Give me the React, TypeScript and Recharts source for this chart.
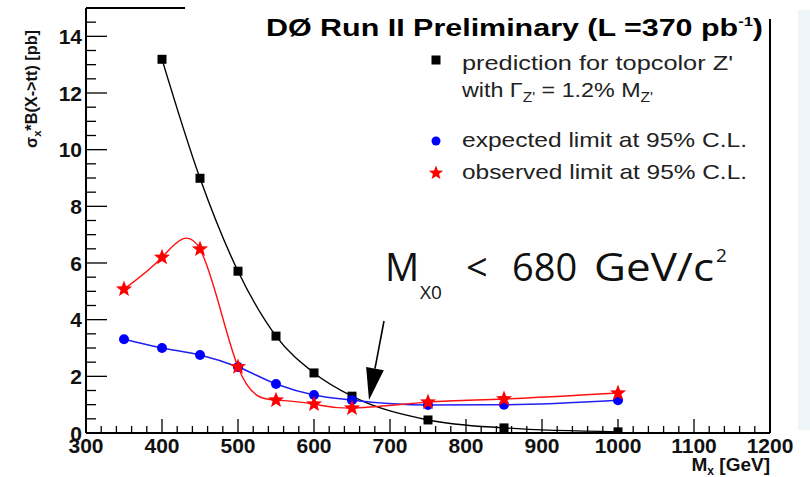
import React from 'react';
import { LineChart, Line, XAxis, YAxis, ReferenceLine } from 'recharts';

// ---- data ----
const masses = [350, 400, 450, 500, 550, 600, 650, 750, 850, 1000];
const prediction: (number | null)[] = [null, 13.19, 8.99, 5.71, 3.42, 2.12, 1.3, 0.46, 0.18, 0.04];
const expectedLimit = [3.31, 3.0, 2.75, 2.33, 1.73, 1.34, 1.16, 0.99, 1.0, 1.16];
const observedLimit = [5.08, 6.2, 6.49, 2.33, 1.16, 1.02, 0.88, 1.09, 1.2, 1.41];

const xMajorTicks = [300, 400, 500, 600, 700, 800, 900, 1000, 1100, 1200];
const yMajorTicks = [0, 2, 4, 6, 8, 10, 12, 14];
const xDomain: [number, number] = [300, 1200];
const yDomain: [number, number] = [0, 15];
const xMinorStep = 20;
const yMinorStep = 0.5;

const range = (a: number, b: number, s: number) => {
  const out: number[] = [];
  for (let v = a; v <= b + 1e-9; v += s) out.push(Math.round(v * 100) / 100);
  return out;
};
const xTicks = range(xDomain[0], xDomain[1], xMinorStep);
const yTicks = range(yDomain[0], yDomain[1], yMinorStep);

const data = masses.map((m, i) => ({
  x: m,
  pred: prediction[i],
  exp: expectedLimit[i],
  obs: observedLimit[i],
}));

const FONT = '"Liberation Sans", Arial, Helvetica, sans-serif';
const ANNOT_FONT = '"Open Sans", "Noto Sans", sans-serif';

function XTick(props: any) {
  const { x, y, payload } = props;
  const v = payload.value;
  const major = xMajorTicks.includes(v);
  return (
    <g>
      <line x1={x} x2={x} y1={y} y2={y - (major ? 14 : 7)} stroke="#000" strokeWidth={1.3} />
      {major && (
        <text x={x} y={y + 20} textAnchor="middle" fontFamily={FONT} fontWeight="bold" fontSize={21} fill="#111">
          {v}
        </text>
      )}
    </g>
  );
}

function YTick(props: any) {
  const { x, y, payload } = props;
  const v = payload.value;
  const major = yMajorTicks.includes(v);
  return (
    <g>
      <line x1={x} x2={x + (major ? 21 : 10)} y1={y} y2={y} stroke="#000" strokeWidth={1.3} />
      {major && (
        <text x={x - 4} y={y + 7.5} textAnchor="end" fontFamily={FONT} fontWeight="bold" fontSize={21} fill="#111">
          {v}
        </text>
      )}
    </g>
  );
}

const starPoints = (cx: number, cy: number, R: number, r: number) => {
  const pts: string[] = [];
  for (let i = 0; i < 10; i++) {
    const a = (-90 + i * 36) * (Math.PI / 180);
    const rad = i % 2 === 0 ? R : r;
    pts.push(`${cx + rad * Math.cos(a)},${cy + rad * Math.sin(a)}`);
  }
  return pts.join(' ');
};

const SquareDot = (p: any) => {
  const { cx, cy, index, value } = p;
  if (cx == null || cy == null || value == null) return <g key={`sq${index}`} />;
  return <rect key={`sq${index}`} x={cx - 4.5} y={cy - 4.5} width={9} height={9} fill="#000" />;
};
const CircleDot = (p: any) => {
  const { cx, cy, index } = p;
  if (cx == null || cy == null) return <g key={`ci${index}`} />;
  return <circle key={`ci${index}`} cx={cx} cy={cy} r={5} fill="#0000ff" />;
};
const StarDot = (p: any) => {
  const { cx, cy, index } = p;
  if (cx == null || cy == null) return <g key={`st${index}`} />;
  return <polygon key={`st${index}`} points={starPoints(cx, cy, 8.5, 3.6)} fill="#ff0000" />;
};

// arrow geometry (annotation)
const arrowTail = { x: 384, y: 321 };
const arrowTip = { x: 369, y: 400 };
const arrowHead = (() => {
  const dx = arrowTip.x - arrowTail.x;
  const dy = arrowTip.y - arrowTail.y;
  const L = Math.hypot(dx, dy);
  const ux = dx / L, uy = dy / L;
  const bx = arrowTip.x - 32 * ux, by = arrowTip.y - 32 * uy;
  const nx = -uy, ny = ux;
  return {
    base: { x: bx, y: by },
    pts: `${arrowTip.x},${arrowTip.y} ${bx + 9 * nx},${by + 9 * ny} ${bx - 9 * nx},${by - 9 * ny}`,
  };
})();

export default function App() {
  return (
    <div style={{ position: 'absolute', left: 0, top: 0, width: 810, height: 477, background: '#fff', overflow: 'hidden' }}>
      <LineChart width={810} height={477} data={data} margin={{ top: 8, right: 40, bottom: 0, left: 0 }}>
        <XAxis
          type="number"
          dataKey="x"
          domain={xDomain}
          ticks={xTicks}
          interval={0}
          tickLine={false}
          tickSize={0}
          tickMargin={0}
          height={44}
          axisLine={{ stroke: '#000', strokeWidth: 2 }}
          tick={<XTick />}
          allowDataOverflow
        />
        <YAxis
          type="number"
          domain={yDomain}
          ticks={yTicks}
          interval={0}
          tickLine={false}
          tickSize={0}
          tickMargin={0}
          width={86}
          axisLine={{ stroke: '#000', strokeWidth: 2 }}
          tick={<YTick />}
          allowDataOverflow
        />
        <ReferenceLine x={xDomain[1]} stroke="#000" strokeWidth={2} />
        <ReferenceLine y={yDomain[1]} stroke="#000" strokeWidth={2} />
        <Line
          dataKey="pred"
          type="monotone"
          stroke="#000"
          strokeWidth={1.4}
          dot={SquareDot}
          activeDot={false}
          isAnimationActive={false}
        />
        <Line
          dataKey="exp"
          type="monotone"
          stroke="#2020f0"
          strokeWidth={1.5}
          dot={CircleDot}
          activeDot={false}
          isAnimationActive={false}
        />
        <Line
          dataKey="obs"
          type="natural"
          stroke="#ff1010"
          strokeWidth={1.4}
          dot={StarDot}
          activeDot={false}
          isAnimationActive={false}
        />
      </LineChart>
      <svg
        width={810}
        height={477}
        style={{ position: 'absolute', left: 0, top: 0, pointerEvents: 'none' }}
      >
        {/* faint scan artefact at the right edge */}
        <rect x={798} y={10} width={12} height={420} fill="#eef6fa" />

        {/* title box */}
        <rect x={185} y={0} width={592} height={19} fill="#fff" />
        <text x={266} y={36} fontFamily={FONT} fontWeight="bold" fontSize={24} fill="#000" textLength={497} lengthAdjust="spacingAndGlyphs">
          DØ Run II Preliminary (L =370 pb
          <tspan fontSize={13} dy={-10}>-1</tspan>
          <tspan dy={10}>)</tspan>
        </text>

        {/* legend */}
        <rect x={431.5} y={55.5} width={9} height={9} fill="#000" />
        <text x={462} y={70} fontFamily={FONT} fontSize={21} fill="#222" textLength={271} lengthAdjust="spacingAndGlyphs">
          prediction for topcolor Z'
        </text>
        <text x={462} y={97} fontFamily={FONT} fontSize={21} fill="#222" textLength={191} lengthAdjust="spacingAndGlyphs">
          with Γ<tspan fontSize={14} dy={5}>Z'</tspan>
          <tspan dy={-5}> = 1.2% M</tspan>
          <tspan fontSize={14} dy={5}>Z'</tspan>
        </text>
        <circle cx={436} cy={141} r={4.5} fill="#0000ff" />
        <text x={462} y={147} fontFamily={FONT} fontSize={21} fill="#222" textLength={285} lengthAdjust="spacingAndGlyphs">
          expected limit at 95% C.L.
        </text>
        <polygon points={starPoints(436, 173, 7.5, 3.2)} fill="#ff0000" />
        <text x={462} y={179} fontFamily={FONT} fontSize={21} fill="#222" textLength={285} lengthAdjust="spacingAndGlyphs">
          observed limit at 95% C.L.
        </text>

        {/* annotation: M_X0 < 680 GeV/c^2 */}
        <text x={385} y={281} fontFamily={ANNOT_FONT} fontSize={38} fill="#111">
          M
        </text>
        <text x={420} y={299} fontFamily={ANNOT_FONT} fontSize={19} fill="#111">
          X0
        </text>
        <text x={466} y={281} fontFamily={ANNOT_FONT} fontSize={38} fill="#111">
          &lt;
        </text>
        <text x={512} y={281} fontFamily={ANNOT_FONT} fontSize={38} fill="#111">
          680
        </text>
        <text x={594} y={281} fontFamily={ANNOT_FONT} fontSize={38} fill="#111" textLength={120} lengthAdjust="spacingAndGlyphs">
          GeV/c
        </text>
        <text x={716} y={262} fontFamily={ANNOT_FONT} fontSize={19} fill="#111">
          2
        </text>
        <line x1={arrowTail.x} y1={arrowTail.y} x2={arrowHead.base.x} y2={arrowHead.base.y} stroke="#000" strokeWidth={1.6} />
        <polygon points={arrowHead.pts} fill="#000" />

        {/* axis titles */}
        <text x={770} y={471} textAnchor="end" fontFamily={FONT} fontWeight="bold" fontSize={19} fill="#111">
          M<tspan fontSize={12} dy={4}>x</tspan>
          <tspan dy={-4}> [GeV]</tspan>
        </text>
        <text
          transform="translate(37,89) rotate(-90)"
          textAnchor="middle"
          fontFamily={FONT}
          fontWeight="bold"
          fontSize={16}
          fill="#111"
          textLength={118}
          lengthAdjust="spacingAndGlyphs"
        >
          σ<tspan fontSize={11} dy={4}>x</tspan>
          <tspan dy={-4}>*B(X-&gt;tt)  [pb]</tspan>
        </text>
      </svg>
    </div>
  );
}
